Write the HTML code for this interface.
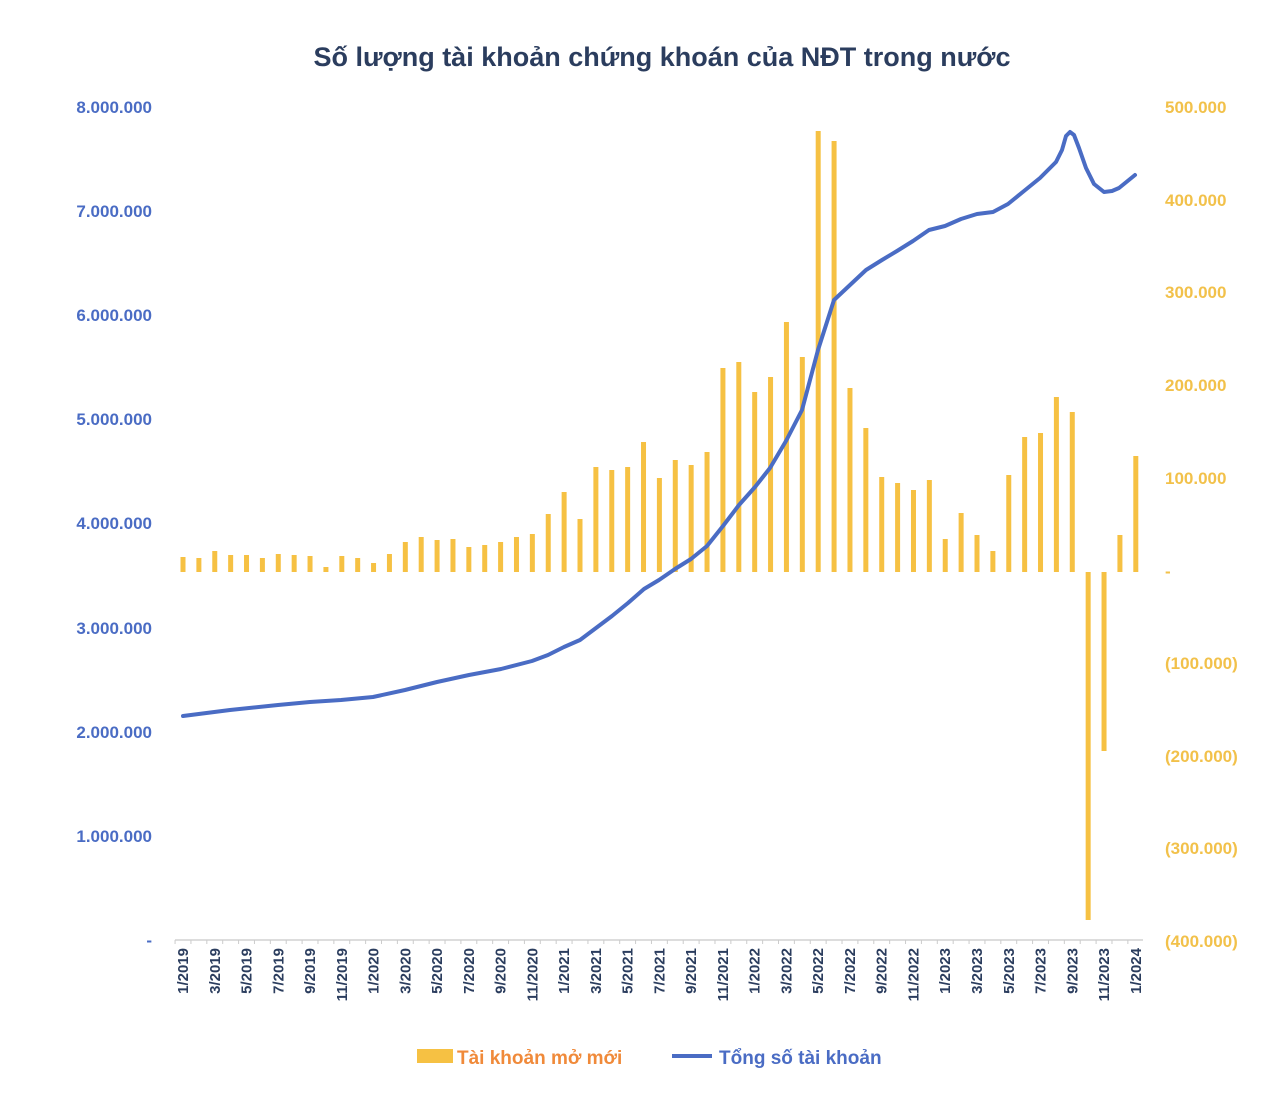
<!DOCTYPE html>
<html><head><meta charset="utf-8"><style>
body{margin:0;background:#fff;}
svg text{font-family:"Liberation Sans",sans-serif;font-weight:bold;}
</style></head><body>
<svg width="1280" height="1090" viewBox="0 0 1280 1090" xmlns="http://www.w3.org/2000/svg">
<text x="662" y="66" text-anchor="middle" font-size="27" fill="#2b3d5e">Số lượng tài khoản chứng khoán của NĐT trong nước</text>
<g font-size="17" fill="#4a6cc4" text-anchor="end">
<text x="152" y="113">8.000.000</text>
<text x="152" y="217">7.000.000</text>
<text x="152" y="321">6.000.000</text>
<text x="152" y="425">5.000.000</text>
<text x="152" y="529">4.000.000</text>
<text x="152" y="634">3.000.000</text>
<text x="152" y="738">2.000.000</text>
<text x="152" y="842">1.000.000</text>
<text x="152" y="946">-</text>
</g>
<g font-size="17" fill="#f2c14a" text-anchor="start">
<text x="1165" y="113">500.000</text>
<text x="1165" y="206">400.000</text>
<text x="1165" y="298">300.000</text>
<text x="1165" y="391">200.000</text>
<text x="1165" y="484">100.000</text>
<text x="1165" y="577">-</text>
<text x="1165" y="669">(100.000)</text>
<text x="1165" y="762">(200.000)</text>
<text x="1165" y="854">(300.000)</text>
<text x="1165" y="947">(400.000)</text>
</g>
<g id="bars" fill="#f6c143"></g>
<line x1="175" y1="940" x2="1143" y2="940" stroke="#bbb" stroke-width="1"/>
<g id="ticks" stroke="#ccc"></g>
<polyline id="line" fill="none" stroke="#4a6cc4" stroke-width="4" stroke-linejoin="round" stroke-linecap="round"/>
<g id="xl" font-size="15" fill="#2b3d5e"></g>
<rect x="417" y="1049" width="36" height="14" fill="#f6c143"/>
<text x="457" y="1064" font-size="19" fill="#f08a3a">Tài khoản mở mới</text>
<line x1="672" y1="1056" x2="712" y2="1056" stroke="#4a6cc4" stroke-width="4"/>
<text x="719" y="1064" font-size="19" fill="#4a6cc4">Tổng số tài khoản</text>
</svg>
<script>
var tops=[557,558,551,555,555,558,554,555,556,567,556,558,563,554,542,537,540,539,547,545,542,537,534,514,492,519,467,470,467,442,478,460,465,452,368,362,392,377,322,357,131,141,388,428,477,483,490,480,539,513,535,551,475,437,433,397,412,920,751,535,456];
var ns="http://www.w3.org/2000/svg",g=document.getElementById('bars'),t=document.getElementById('ticks'),xl=document.getElementById('xl');
var B=572,x0=183,dx=15.88;
for(var i=0;i<61;i++){var x=x0+i*dx,y=tops[i];var r=document.createElementNS(ns,'rect');
r.setAttribute('x',x-2.5);r.setAttribute('width',5);r.setAttribute('y',Math.min(y,B));r.setAttribute('height',Math.abs(B-y));g.appendChild(r);
var l=document.createElementNS(ns,'line');var tx=x-dx/2;l.setAttribute('x1',tx);l.setAttribute('x2',tx);l.setAttribute('y1',940);l.setAttribute('y2',944);t.appendChild(l);
if(i%2==0){var m=(i%12)+1,yr=2019+Math.floor(i/12);var s=document.createElementNS(ns,'text');s.textContent=m+'/'+yr;
s.setAttribute('transform','translate('+(x+5)+',948) rotate(-90)');s.setAttribute('text-anchor','end');xl.appendChild(s);}}
var pts=[[183,716],[230,710],[278,705],[310,702],[341,700],[373,697],[405,690],[437,682],[469,675],[501,669],[532,661],[548,655],[564,647],[580,640],[596,628],[612,616],[628,603],[644,589],[659,580],[675,569],[691,559],[707,546],[723,526],[739,505],[755,487],[770,468],[786,441],[802,410],[818,350],[834,300],[850,285],[866,270],[882,260],[897,251],[913,241],[929,230],[945,226],[961,219],[977,214],[993,212],[1008,204],[1024,191],[1040,178],[1056,162],[1062,150],[1066,136],[1070,132],[1074,135],[1079,148],[1086,168],[1094,184],[1104,192],[1112,191],[1119,188],[1135,175]];
document.getElementById('line').setAttribute('points',pts.map(function(p){return p.join(',')}).join(' '));
</script>
</body></html>
